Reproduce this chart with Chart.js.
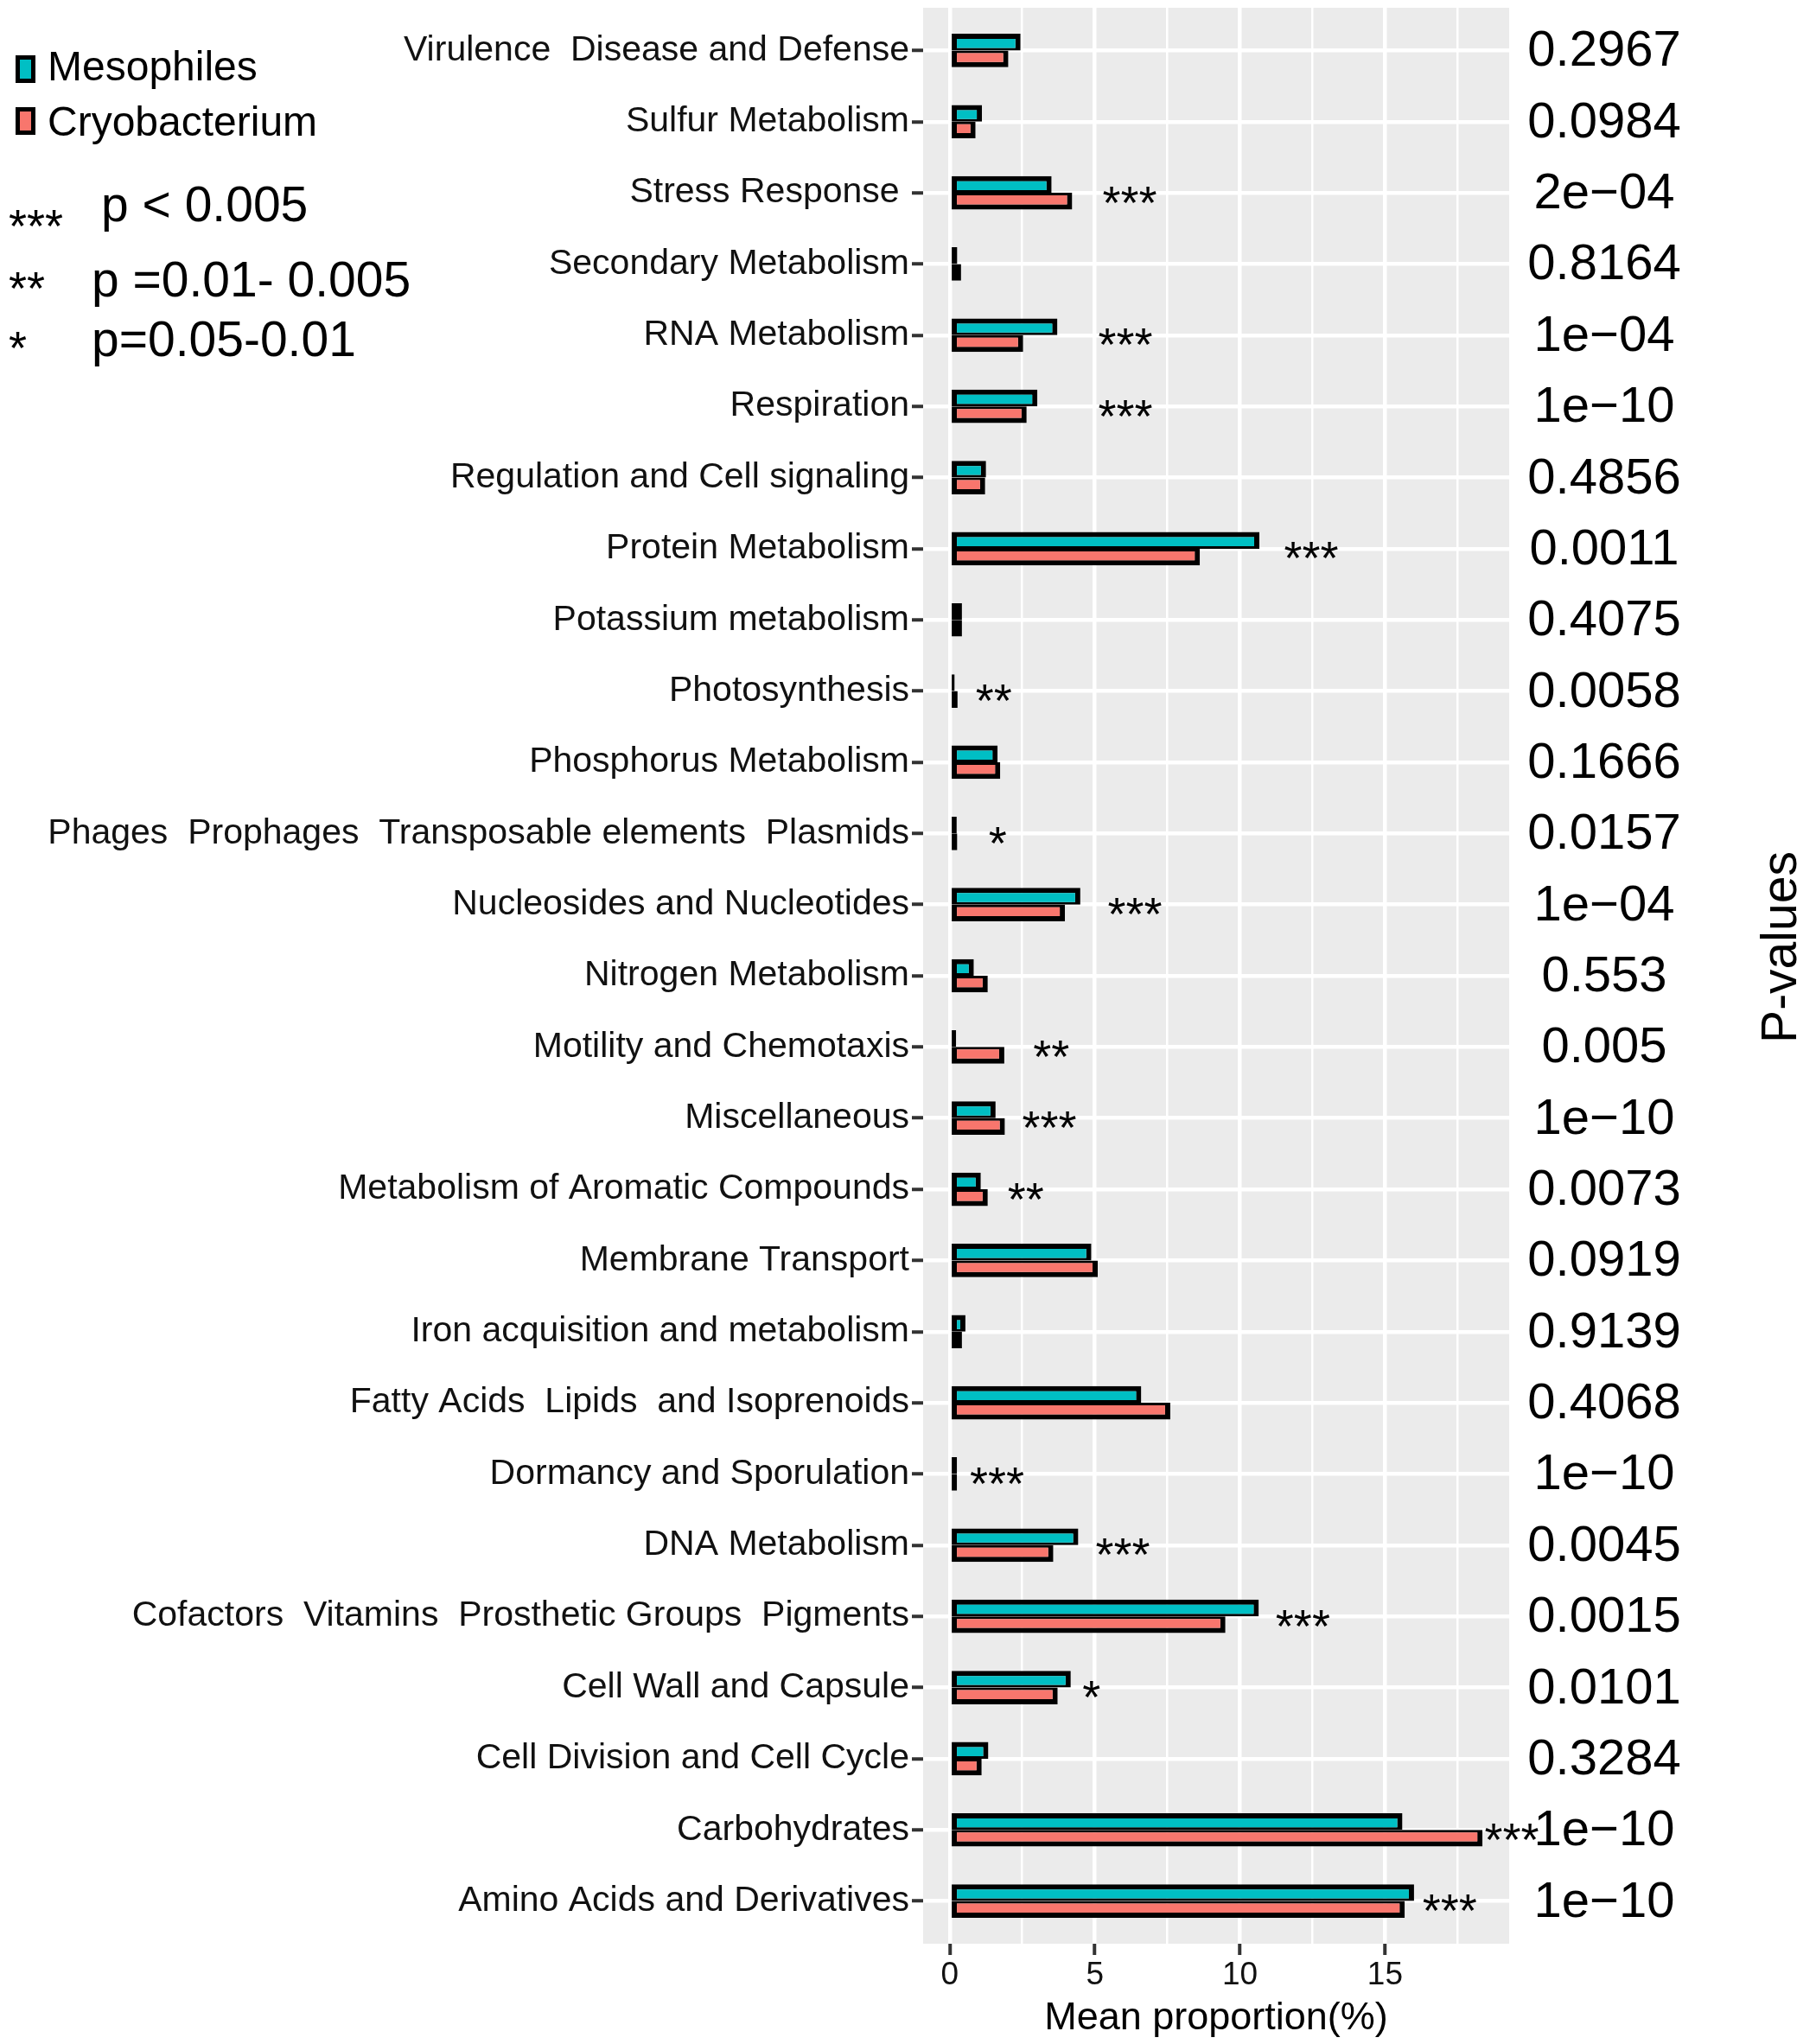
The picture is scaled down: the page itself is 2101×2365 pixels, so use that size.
<!DOCTYPE html>
<html>
<head>
<meta charset="utf-8">
<script src="https://cdn.jsdelivr.net/npm/chart.js@4.4.1/dist/chart.umd.min.js"></script>
<style>
  html, body { margin: 0; padding: 0; background: #fff; }
  canvas { display: block; }
</style>
</head>
<body>
<canvas id="chart" width="2101" height="2365"></canvas>
<script>
// subsystems, listed top to bottom as in the figure
const categories = [
  "Virulence  Disease and Defense",
  "Sulfur Metabolism",
  "Stress Response ",
  "Secondary Metabolism",
  "RNA Metabolism",
  "Respiration",
  "Regulation and Cell signaling",
  "Protein Metabolism",
  "Potassium metabolism",
  "Photosynthesis",
  "Phosphorus Metabolism",
  "Phages  Prophages  Transposable elements  Plasmids",
  "Nucleosides and Nucleotides",
  "Nitrogen Metabolism",
  "Motility and Chemotaxis",
  "Miscellaneous",
  "Metabolism of Aromatic Compounds",
  "Membrane Transport",
  "Iron acquisition and metabolism",
  "Fatty Acids  Lipids  and Isoprenoids",
  "Dormancy and Sporulation",
  "DNA Metabolism",
  "Cofactors  Vitamins  Prosthetic Groups  Pigments",
  "Cell Wall and Capsule",
  "Cell Division and Cell Cycle",
  "Carbohydrates",
  "Amino Acids and Derivatives",
];

// mean proportion (%)
const mesophiles = [
  2.44, 1.11, 3.51, 0.26, 3.71, 3.02, 1.25, 10.67, 0.42, 0.17, 1.65, 0.24, 4.5, 0.83,
  0.22, 1.58, 1.07, 4.88, 0.54, 6.6, 0.25, 4.43, 10.65, 4.17, 1.33, 15.6, 16.0,
];
const cryobacterium = [
  2.02, 0.89, 4.22, 0.39, 2.53, 2.65, 1.22, 8.62, 0.42, 0.27, 1.74, 0.26, 3.97, 1.31,
  1.88, 1.9, 1.31, 5.1, 0.42, 7.6, 0.25, 3.57, 9.5, 3.72, 1.1, 18.36, 15.68,
];

const pValues = [
  "0.2967", "0.0984", "2e\u221204", "0.8164", "1e\u221204", "1e\u221210", "0.4856",
  "0.0011", "0.4075", "0.0058", "0.1666", "0.0157", "1e\u221204", "0.553", "0.005",
  "1e\u221210", "0.0073", "0.0919", "0.9139", "0.4068", "1e\u221210", "0.0045",
  "0.0015", "0.0101", "0.3284", "1e\u221210", "1e\u221210",
];

const signif = [
  "", "", "***", "", "***", "***", "", "***", "", "**", "", "*", "***", "",
  "**", "***", "**", "", "", "", "***", "***", "***", "*", "", "***", "***",
];
// where each star label sits, in % units
const signifPos = [
  0, 0, 6.2, 0, 6.05, 6.05, 0, 12.46, 0, 1.52, 0, 1.65, 6.38, 0,
  3.5, 3.43, 2.62, 0, 0, 0, 1.63, 5.96, 12.17, 4.88, 0, 19.37, 17.23,
];

const xTicks = [0, 2.5, 5, 7.5, 10, 12.5, 15, 17.5];
const sigLegend = [
  ["***", "p < 0.005"],
  ["**", "p =0.01- 0.005"],
  ["*", "p=0.05-0.01"],
];

const FONT = "'Liberation Sans', Arial, sans-serif";
Chart.defaults.font.family = FONT;

const dataMax = Math.max(...mesophiles, ...cryobacterium);

function drawStars(ctx, text, cx, cy, size) {
  ctx.font = size + "px " + FONT;
  let m = ctx.measureText(text);
  let base = cy - (m.actualBoundingBoxDescent - m.actualBoundingBoxAscent) / 2;
  ctx.textAlign = "center";
  ctx.textBaseline = "alphabetic";
  ctx.fillText(text, cx, base);
}

const panelBg = {
  id: "panelBg",
  beforeDraw(chart) {
    const { ctx, chartArea: a } = chart;
    ctx.save();
    ctx.fillStyle = "#fff";
    ctx.fillRect(0, 0, chart.width, chart.height);
    ctx.fillStyle = "#EBEBEB";
    ctx.fillRect(a.left, a.top, a.right - a.left, a.bottom - a.top);
    ctx.restore();
  },
};

const annotations = {
  id: "annotations",
  afterDraw(chart) {
    const { ctx, chartArea: a } = chart;
    const xs = chart.scales.x;
    const ys = chart.scales.y;
    ctx.save();
    ctx.fillStyle = "#000";

    // significance stars
    signif.forEach((s, i) => {
      if (!s) return;
      drawStars(ctx, s, xs.getPixelForValue(signifPos[i]), ys.getPixelForValue(i) + 2, 54);
    });

    // p-value column
    ctx.font = "58px " + FONT;
    ctx.textAlign = "center";
    ctx.textBaseline = "middle";
    pValues.forEach((p, i) => {
      ctx.fillText(p, a.right + 110, ys.getPixelForValue(i) + 2);
    });

    // right title
    ctx.save();
    ctx.translate(2062, 1096);
    ctx.rotate(-Math.PI / 2);
    ctx.font = "57px " + FONT;
    ctx.fillText("P-values", 0, 0);
    ctx.restore();

    // group legend
    const keyY = [64, 124];
    const textY = [93, 157];
    chart.data.datasets.forEach((ds, i) => {
      ctx.fillStyle = "#000";
      ctx.fillRect(18, keyY[i], 23, 32);
      ctx.fillStyle = ds.backgroundColor;
      ctx.fillRect(23, keyY[i] + 5, 13, 22);
      ctx.fillStyle = "#000";
      ctx.font = "48px " + FONT;
      ctx.textAlign = "left";
      ctx.textBaseline = "alphabetic";
      ctx.fillText(ds.label, 55, textY[i]);
    });

    // significance legend
    const sigY = [240, 327, 396];
    const sigTextX = [117, 106, 106];
    sigLegend.forEach(([stars, txt], i) => {
      ctx.font = "54px " + FONT;
      let w = ctx.measureText(stars).width;
      drawStars(ctx, stars, 10 + w / 2, sigY[i] + 12, 54);
      ctx.font = "57px " + FONT;
      ctx.textAlign = "left";
      ctx.textBaseline = "middle";
      ctx.fillText(txt, sigTextX[i], sigY[i]);
    });

    ctx.restore();
  },
};

new Chart(document.getElementById("chart"), {
  type: "bar",
  data: {
    datasets: [
      {
        label: "Mesophiles",
        data: mesophiles.map((v, i) => ({ x: v, y: i })),
        backgroundColor: "#00BFC4",
        borderColor: "#000",
        borderWidth: { top: 6, right: 6, bottom: 3, left: 6 },
        borderSkipped: false,
      },
      {
        label: "Cryobacterium",
        data: cryobacterium.map((v, i) => ({ x: v, y: i })),
        backgroundColor: "#F8766D",
        borderColor: "#000",
        borderWidth: { top: 3, right: 6, bottom: 6, left: 6 },
        borderSkipped: false,
      },
    ],
  },
  options: {
    indexAxis: "y",
    responsive: false,
    devicePixelRatio: 1,
    animation: false,
    categoryPercentage: 0.47,
    barPercentage: 1,
    layout: { padding: { top: 9, right: 355, bottom: 0, left: 0 } },
    plugins: {
      legend: { display: false },
      tooltip: { enabled: false },
    },
    scales: {
      x: {
        type: "linear",
        min: -0.05 * dataMax,
        max: 1.05 * dataMax,
        afterBuildTicks: (scale) => {
          scale.ticks = xTicks.map((v) => ({ value: v }));
        },
        afterFit: (scale) => {
          scale.height = 116;
          scale.paddingLeft = 0;
          scale.paddingRight = 0;
        },
        border: { display: false },
        grid: {
          color: "#fff",
          lineWidth: (c) => (c.tick && c.tick.value % 5 === 0 ? 4.5 : 2.5),
          tickLength: 13,
          tickWidth: 4,
          tickColor: (c) => (c.tick && c.tick.value % 5 === 0 ? "#333" : "rgba(0,0,0,0)"),
        },
        ticks: {
          autoSkip: false,
          maxRotation: 0,
          padding: 2,
          color: "#111",
          font: { size: 37 },
          callback: (v) => (v % 5 === 0 ? String(v) : ""),
        },
        title: {
          display: true,
          text: "Mean proportion(%)",
          color: "#000",
          font: { size: 45 },
          padding: { top: 0, bottom: 2 },
        },
      },
      y: {
        type: "linear",
        reverse: true,
        offset: false,
        min: -0.6,
        max: categories.length - 0.4,
        afterBuildTicks: (scale) => {
          scale.ticks = categories.map((_, i) => ({ value: i }));
        },
        afterFit: (scale) => {
          scale.width = 1068;
          scale.paddingTop = 0;
          scale.paddingBottom = 0;
        },
        border: { display: false },
        grid: {
          offset: false,
          color: "#fff",
          lineWidth: 4.5,
          tickLength: 13,
          tickWidth: 4,
          tickColor: "#333",
        },
        ticks: {
          autoSkip: false,
          padding: 3,
          color: "#111",
          font: { size: 41 },
          callback: (v) => categories[v],
        },
      },
    },
  },
  plugins: [panelBg, annotations],
});
</script>
</body>
</html>
